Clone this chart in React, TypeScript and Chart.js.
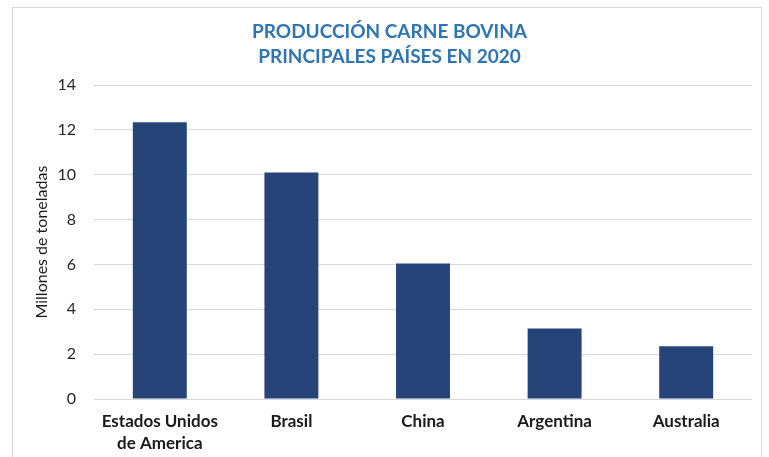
import React, { useEffect, useRef } from "react";
import { Chart, registerables } from "chart.js";

Chart.register(...registerables);

const categories: (string | string[])[] = [
  ["Estados Unidos", "de America"],
  "Brasil",
  "China",
  "Argentina",
  "Australia",
];
const production = [12.35, 10.1, 6.04, 3.14, 2.35];
const titleLines = ["PRODUCCIÓN CARNE BOVINA", "PRINCIPALES PAÍSES EN 2020"];
const yAxisTitle = "Millones de toneladas";

const FONT = "Lato, 'Open Sans', sans-serif";

export default function App() {
  const ref = useRef<HTMLCanvasElement | null>(null);

  useEffect(() => {
    if (!ref.current) return;
    const chart = new Chart(ref.current, {
      type: "bar",
      data: {
        labels: categories,
        datasets: [
          {
            data: production,
            backgroundColor: "#264478",
            borderColor: "#264478",
            borderWidth: 0,
            categoryPercentage: 1,
            barPercentage: 0.41,
          },
        ],
      },
      options: {
        animation: false,
        responsive: false,
        maintainAspectRatio: false,
        layout: { padding: { left: 10, right: 0, top: 0, bottom: 0 } },
        plugins: {
          legend: { display: false },
          tooltip: { enabled: false },
          title: {
            display: true,
            text: titleLines,
            color: "#2E75B6",
            font: { family: FONT, size: 19, weight: "bold", lineHeight: 1.32 },
            padding: { top: 19, bottom: 16 },
          },
        },
        scales: {
          x: {
            grid: { display: false, drawTicks: false },
            border: { display: false },
            ticks: {
              color: "#1a1a1a",
              font: { family: FONT, size: 17, weight: "bold", lineHeight: 1.3 },
              padding: 11,
              maxRotation: 0,
              autoSkip: false,
            },
            afterFit: (scale: any) => {
              scale.height = 58;
            },
          },
          y: {
            min: 0,
            max: 14,
            ticks: {
              stepSize: 2,
              color: "#262626",
              font: { family: FONT, size: 16 },
              padding: 18,
            },
            grid: { color: "#D9D9D9", lineWidth: 1, drawTicks: false },
            border: { display: false },
            title: {
              display: true,
              text: yAxisTitle,
              color: "#1a1a1a",
              font: { family: FONT, size: 16, lineHeight: 1.2 },
              padding: { top: 22, bottom: 0 },
            },
            afterFit: (scale: any) => {
              scale.width = 84;
            },
          },
          yRight: {
            position: "right",
            display: true,
            grid: { display: false, drawTicks: false },
            border: { display: false },
            ticks: { display: false },
            afterFit: (scale: any) => {
              scale.width = 17;
            },
          },
        },
      },
    });
    return () => chart.destroy();
  }, []);

  return (
    <div
      style={{
        position: "absolute",
        left: 0,
        top: 0,
        width: 769,
        height: 457,
        background: "#ffffff",
        overflow: "hidden",
      }}
    >
      <div
        style={{
          position: "absolute",
          left: 12,
          top: 7,
          width: 750,
          height: 470,
          border: "1px solid #D9D9D9",
          boxSizing: "border-box",
        }}
      />
      <canvas
        ref={ref}
        width={769}
        height={457}
        style={{ position: "absolute", left: 0, top: 0, width: 769, height: 457 }}
      />
    </div>
  );
}
